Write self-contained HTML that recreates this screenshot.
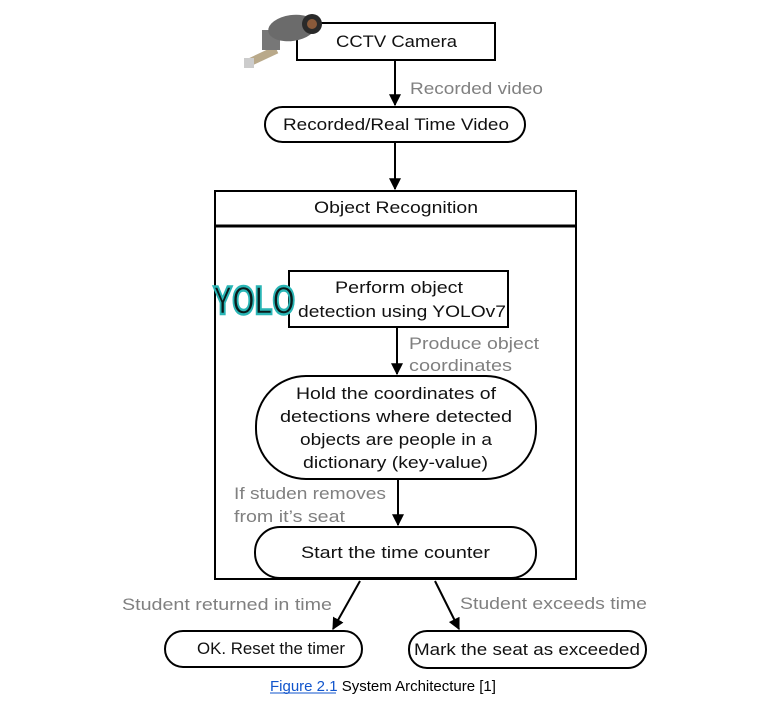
<!DOCTYPE html>
<html><head><meta charset="utf-8"><style>
html,body{margin:0;padding:0;background:#fff;width:779px;height:712px;overflow:hidden}
svg{display:block}
text{font-family:"Liberation Sans",sans-serif}
</style></head><body>
<svg width="779" height="712" viewBox="0 0 779 712" xmlns="http://www.w3.org/2000/svg">
<defs><marker id="a" viewBox="0 0 10 10" refX="9" refY="5" markerWidth="6" markerHeight="6" orient="auto"><path d="M0,0 L10,5 L0,10 z" fill="#000"/></marker></defs>
<g fill="none" stroke="#000" stroke-width="2">
<rect x="297" y="23" width="198" height="37"/>
<rect x="265" y="107" width="260" height="35" rx="17.5"/>
<rect x="215" y="191" width="361" height="388"/>
<line x1="215" y1="226" x2="576" y2="226" stroke-width="3"/>
<rect x="289" y="271" width="219" height="56"/>
<rect x="256" y="376" width="280" height="103" rx="50"/>
<rect x="255" y="527" width="281" height="51" rx="25"/>
<rect x="165" y="631" width="197" height="36" rx="18"/>
<rect x="409" y="631" width="237" height="37" rx="18"/>
<line x1="395" y1="60" x2="395" y2="105" marker-end="url(#a)"/>
<line x1="395" y1="142" x2="395" y2="189" marker-end="url(#a)"/>
<line x1="397" y1="327" x2="397" y2="374" marker-end="url(#a)"/>
<line x1="398" y1="479" x2="398" y2="525" marker-end="url(#a)"/>
<line x1="360" y1="581" x2="333" y2="629" marker-end="url(#a)"/>
<line x1="435" y1="581" x2="459" y2="629" marker-end="url(#a)"/>
</g>
<g>
<rect x="248" y="52" width="30" height="8" fill="#b9a98a" transform="rotate(-25 263 56)"/>
<rect x="244" y="58" width="10" height="10" fill="#ccc"/>
<rect x="262" y="30" width="18" height="20" fill="#777"/>
<ellipse cx="292" cy="28" rx="24" ry="13" fill="#6b6b6b" transform="rotate(-8 292 28)"/>
<circle cx="312" cy="24" r="10" fill="#2a2a2a"/>
<circle cx="312" cy="24" r="5" fill="#8a5a3a"/>
</g>
<text x="213" y="314" font-family="Liberation Serif,serif" font-weight="bold" font-size="40" fill="#0a1a1a" stroke="#2ab5b5" stroke-width="2.5" textLength="82" lengthAdjust="spacingAndGlyphs">YOLO</text>
<g font-size="17" fill="#111">
<text x="336" y="47" textLength="121" lengthAdjust="spacingAndGlyphs">CCTV Camera</text>
<text x="283" y="130" textLength="226" lengthAdjust="spacingAndGlyphs">Recorded/Real Time Video</text>
<text x="314" y="213" textLength="164" lengthAdjust="spacingAndGlyphs">Object Recognition</text>
<text x="335" y="293" textLength="128" lengthAdjust="spacingAndGlyphs">Perform object</text>
<text x="298" y="317" textLength="208" lengthAdjust="spacingAndGlyphs">detection using YOLOv7</text>
<text x="296" y="399" textLength="200" lengthAdjust="spacingAndGlyphs">Hold the coordinates of</text>
<text x="280" y="422" textLength="232" lengthAdjust="spacingAndGlyphs">detections where detected</text>
<text x="300" y="445" textLength="192" lengthAdjust="spacingAndGlyphs">objects are people in a</text>
<text x="303" y="468" textLength="185" lengthAdjust="spacingAndGlyphs">dictionary (key-value)</text>
<text x="301" y="558" textLength="189" lengthAdjust="spacingAndGlyphs">Start the time counter</text>
<text x="197" y="654" textLength="148" lengthAdjust="spacingAndGlyphs">OK. Reset the timer</text>
<text x="414" y="655" textLength="226" lengthAdjust="spacingAndGlyphs">Mark the seat as exceeded</text>
</g>
<g font-size="17" fill="#808080">
<text x="410" y="94" textLength="133" lengthAdjust="spacingAndGlyphs">Recorded video</text>
<text x="409" y="349" textLength="130" lengthAdjust="spacingAndGlyphs">Produce object</text>
<text x="409" y="371" textLength="103" lengthAdjust="spacingAndGlyphs">coordinates</text>
<text x="234" y="499" textLength="152" lengthAdjust="spacingAndGlyphs">If studen removes</text>
<text x="234" y="522" textLength="111" lengthAdjust="spacingAndGlyphs">from it’s seat</text>
<text x="122" y="610" textLength="210" lengthAdjust="spacingAndGlyphs">Student returned in time</text>
<text x="460" y="609" textLength="187" lengthAdjust="spacingAndGlyphs">Student exceeds time</text>
</g>
<text x="270" y="691" font-size="15"><tspan fill="#1155cc">Figure 2.1</tspan><tspan fill="#000"> System Architecture [1]</tspan></text>
<line x1="270" y1="693" x2="336" y2="693" stroke="#1155cc" stroke-width="1"/>
</svg>
</body></html>
